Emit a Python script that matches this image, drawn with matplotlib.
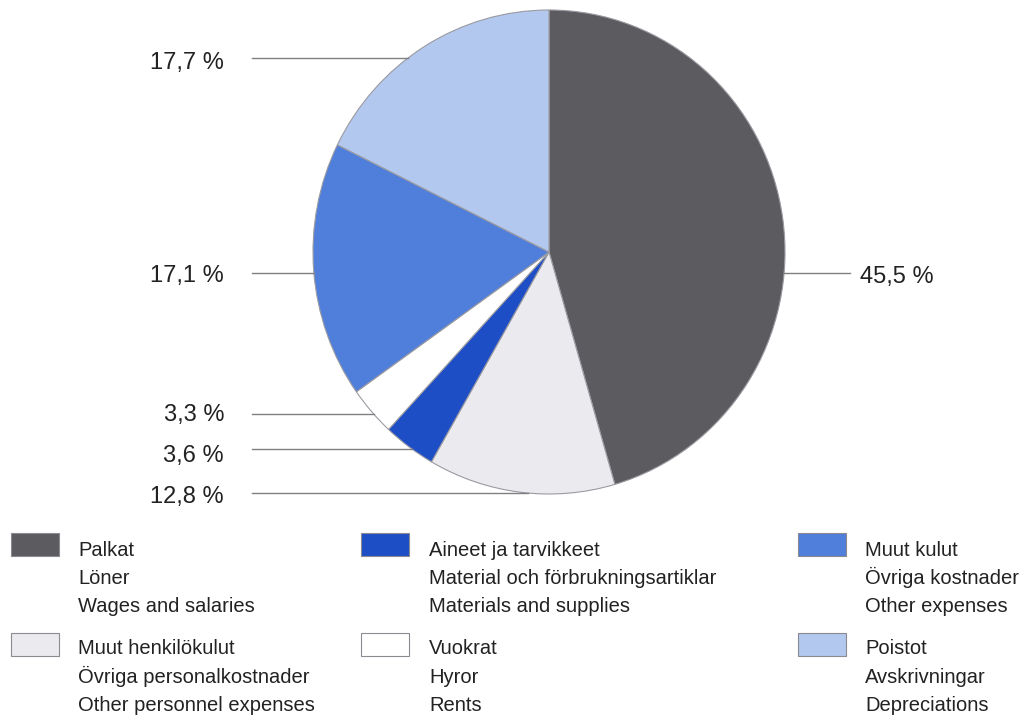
import matplotlib
matplotlib.use("Agg")
import matplotlib.pyplot as plt
from matplotlib.patches import Rectangle
import numpy as np

plt.rcParams['font.family'] = ['Liberation Sans', 'DejaVu Sans']

# ---- data ----
shares = [45.5, 12.8, 3.6, 3.3, 17.1, 17.7]
pct_labels = ["45,5 %", "12,8 %", "3,6 %", "3,3 %", "17,1 %", "17,7 %"]
colors = ["#5b5b60", "#ebebef", "#1d4ec6", "#ffffff", "#4f7fda", "#b3c8ee"]
legend_fi = ["Palkat", "Muut henkilökulut", "Aineet ja tarvikkeet", "Vuokrat", "Muut kulut", "Poistot"]
legend_sv = ["Löner", "Övriga personalkostnader", "Material och förbrukningsartiklar", "Hyror",
             "Övriga kostnader", "Avskrivningar"]
legend_en = ["Wages and salaries", "Other personnel expenses", "Materials and supplies", "Rents",
             "Other expenses", "Depreciations"]

W, H = 1025, 717
fig = plt.figure(figsize=(W / 100, H / 100), dpi=100)

# pie geometry (pixels)
cx, cy, rx, ry = 549, 252, 236, 242
axp = fig.add_axes([(cx - rx) / W, (H - (cy + ry)) / H, 2 * rx / W, 2 * ry / H])
axp.pie(shares, colors=colors, startangle=90, counterclock=False, radius=1,
        wedgeprops=dict(edgecolor="#9a9aa2", linewidth=0.8))
axp.set_xlim(-1, 1)
axp.set_ylim(-1, 1)
axp.set_aspect('auto')
axp.axis('off')

# overlay axes in pixel coordinates
ax = fig.add_axes([0, 0, 1, 1], zorder=3)
ax.set_xlim(0, W)
ax.set_ylim(H, 0)
ax.axis('off')
ax.patch.set_alpha(0)

def edge_x(y, side):
    dy = y - cy
    dx = rx * np.sqrt(max(0.0, 1 - (dy / ry) ** 2))
    return cx + side * dx

line_col = "#808084"
pct_fs = 17
# label placement: (line y, text baseline, side)
placements = {
    0: (273, 283, +1),
    1: (493, 503, -1),
    2: (449, 462, -1),
    3: (414, 421, -1),
    4: (273, 282, -1),
    5: (58, 69, -1),
}
for i, (ly, tb, side) in placements.items():
    if side > 0:
        ax.plot([edge_x(ly, 1), 850], [ly, ly], color=line_col, lw=1.0)
        ax.text(860, tb, pct_labels[i], ha='left', va='baseline', fontsize=pct_fs, color="#222222")
    else:
        ax.plot([252, edge_x(ly, -1)], [ly, ly], color=line_col, lw=1.0)
        ax.text(224, tb, pct_labels[i], ha='right', va='baseline', fontsize=pct_fs, color="#222222")

# legend
leg_fs = 14.5
col_box_x = [11, 361, 798]
col_text_x = [78, 429, 865]
row_box_y = [533, 633]
row_base = [[556, 584, 612], [654, 683, 711]]
order = [[0, 1], [2, 3], [4, 5]]
for c in range(3):
    for r in range(2):
        i = order[c][r]
        ax.add_patch(Rectangle((col_box_x[c], row_box_y[r]), 48, 23, facecolor=colors[i],
                               edgecolor="#8a8a90", lw=0.8))
        for k, txt in enumerate([legend_fi[i], legend_sv[i], legend_en[i]]):
            ax.text(col_text_x[c], row_base[r][k], txt, ha='left', va='baseline',
                    fontsize=leg_fs, color="#222222")

fig.savefig("out.png", dpi=100)
